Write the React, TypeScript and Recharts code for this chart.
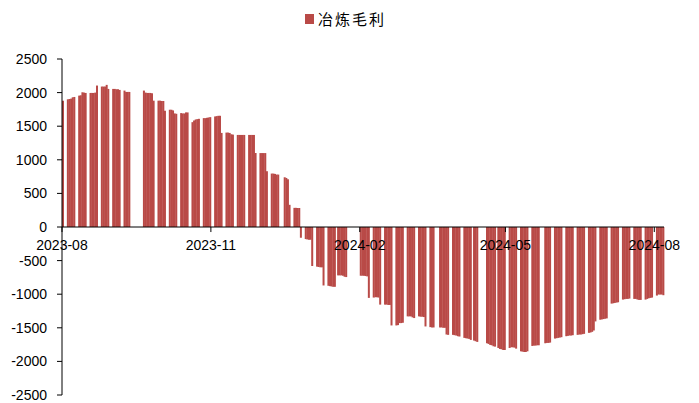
import { BarChart, Bar, XAxis, YAxis, ReferenceLine, Legend } from 'recharts';

const RED = '#B94A47';
const FONT = '"Liberation Sans", Arial, sans-serif';

// day 0 of the date axis (first trading day shown)
const START = '2023-08-18';

// each row is a run of consecutive trading days starting on WEEK_START[i]
const WEEK_START = [
  '2023-08-18', '2023-08-21', '2023-08-28', '2023-09-04', '2023-09-11', '2023-09-18', '2023-09-25',
  '2023-10-07', '2023-10-16', '2023-10-23', '2023-10-30', '2023-11-06', '2023-11-13', '2023-11-20',
  '2023-11-27', '2023-12-04', '2023-12-11', '2023-12-18', '2023-12-25', '2024-01-02', '2024-01-08',
  '2024-01-15', '2024-01-22', '2024-01-29', '2024-02-04', '2024-02-18', '2024-02-26', '2024-03-04',
  '2024-03-11', '2024-03-18', '2024-03-25', '2024-04-01', '2024-04-07', '2024-04-15', '2024-04-22',
  '2024-04-28', '2024-05-06', '2024-05-13', '2024-05-20', '2024-05-27', '2024-06-03', '2024-06-11',
  '2024-06-17', '2024-06-24', '2024-07-01', '2024-07-08', '2024-07-15', '2024-07-22', '2024-07-29',
  '2024-08-05', '2024-08-12', '2024-08-19',
];

const WEEK_VALUES = [
  [1880],
  [1900, 1905, 1910, 1930, 1935],
  [1955, 1960, 2005, 2000, 1995],
  [1995, 1995, 1995, 2000, 2105],
  [2090, 2090, 2090, 2115, 2055],
  [2055, 2055, 2050, 2050, 2040],
  [2030, 2010, 2010, 2010],
  [2030, 2000, 1995, 1995, 1995, 1990, 1880],
  [1880, 1880, 1875, 1875, 1730],
  [1745, 1745, 1735, 1690, 1685],
  [1695, 1690, 1690, 1705, 1705],
  [1560, 1585, 1600, 1605, 1610],
  [1620, 1620, 1625, 1630, 1635],
  [1645, 1650, 1655, 1655, 1400],
  [1405, 1405, 1400, 1380, 1375],
  [1370, 1370, 1370, 1370, 1370],
  [1370, 1370, 1370, 1370, 1100],
  [1100, 1100, 1100, 1100, 830],
  [795, 795, 790, 780, 780],
  [740, 730, 710, 330],
  [285, 285, 283, 283, -160],
  [-180, -185, -190, -190, -580],
  [-590, -595, -600, -600, -870],
  [-875, -880, -885, -890, -890],
  [-720, -720, -720, -725, -740, -745],
  [-725, -725, -725, -730, -735, -1055],
  [-1050, -1045, -1045, -1050, -1155],
  [-1155, -1155, -1160, -1160, -1465],
  [-1465, -1460, -1430, -1430, -1425],
  [-1330, -1330, -1330, -1345, -1355],
  [-1330, -1335, -1335, -1340, -1480],
  [-1490, -1495, -1495],
  [-1495, -1495, -1500, -1500, -1600, -1605],
  [-1605, -1610, -1615, -1625, -1630],
  [-1650, -1655, -1660, -1665, -1680],
  [-1690, -1700, -1710],
  [-1730, -1740, -1755, -1760, -1775, -1780],
  [-1800, -1815, -1820, -1830, -1830],
  [-1800, -1790, -1790, -1795, -1810],
  [-1850, -1855, -1860, -1860, -1850],
  [-1770, -1765, -1765, -1760, -1760],
  [-1730, -1725, -1725, -1720],
  [-1660, -1655, -1650, -1645, -1640],
  [-1625, -1620, -1615, -1615, -1610],
  [-1605, -1600, -1600, -1595, -1590],
  [-1575, -1570, -1560, -1540, -1405],
  [-1380, -1375, -1370, -1365, -1360],
  [-1140, -1135, -1130, -1125, -1120],
  [-1080, -1075, -1070, -1070, -1065],
  [-1070, -1070, -1080, -1085, -1085],
  [-1080, -1070, -1060, -1055, -1050],
  [-1020, -1005, -1005, -1005, -1015],
];

const TICK_DAYS = [0, 92, 184, 274, 366];
const TICK_LABELS = ['2023-08', '2023-11', '2024-02', '2024-05', '2024-08'];
const Y_TICKS = [2500, 2000, 1500, 1000, 500, 0, -500, -1000, -1500, -2000, -2500];
const LAST_DAY = 372;

const dayIndex = (d: string) => Math.round((Date.parse(d) - Date.parse(START)) / 86400000);

const data = WEEK_START.flatMap((s, i) =>
  WEEK_VALUES[i].map((v, j) => ({ day: dayIndex(s) + j + 0.5, value: v }))
);

const LegendContent = () => (
  <div style={{ display: 'flex', alignItems: 'center' }}>
    <span style={{ width: 9, height: 10, background: RED, marginRight: 4, display: 'inline-block' }} />
    <span style={{ fontFamily: '"Noto Sans CJK SC", sans-serif', fontSize: 15, letterSpacing: 2, color: '#000', lineHeight: '18px' }}>
      冶炼毛利
    </span>
  </div>
);

export default function App() {
  return (
    <div style={{ position: 'absolute', left: 0, top: 0 }}>
      <BarChart
        width={699}
        height={403}
        data={data}
        margin={{ top: 59, right: 35, bottom: 8, left: 0 }}
        barCategoryGap={0}
        barGap={0}
      >
        <XAxis dataKey="day" type="number" domain={[0, LAST_DAY]} hide />
        <YAxis
          domain={[-2500, 2500]}
          ticks={Y_TICKS}
          interval={0}
          width={62}
          tickSize={5}
          tickMargin={10}
          allowDataOverflow
          axisLine={{ stroke: '#000' }}
          tickLine={{ stroke: '#000' }}
          tick={{ fill: '#000', fontSize: 14, fontFamily: FONT }}
        />
        <Legend
          layout="horizontal"
          verticalAlign="middle"
          align="center"
          content={<LegendContent />}
          wrapperStyle={{ top: 10, left: 305, width: 200 }}
        />
        <Bar dataKey="value" fill={RED} isAnimationActive={false} />
        <ReferenceLine y={0} stroke="#000" />
        {TICK_DAYS.map((d, i) => (
          <ReferenceLine
            key={d}
            segment={[{ x: d, y: 0 }, { x: d, y: -75 }]}
            stroke="#000"
            label={{ value: TICK_LABELS[i], position: 'bottom', offset: 8, fill: '#000', fontSize: 14, fontFamily: FONT }}
          />
        ))}
      </BarChart>
    </div>
  );
}
